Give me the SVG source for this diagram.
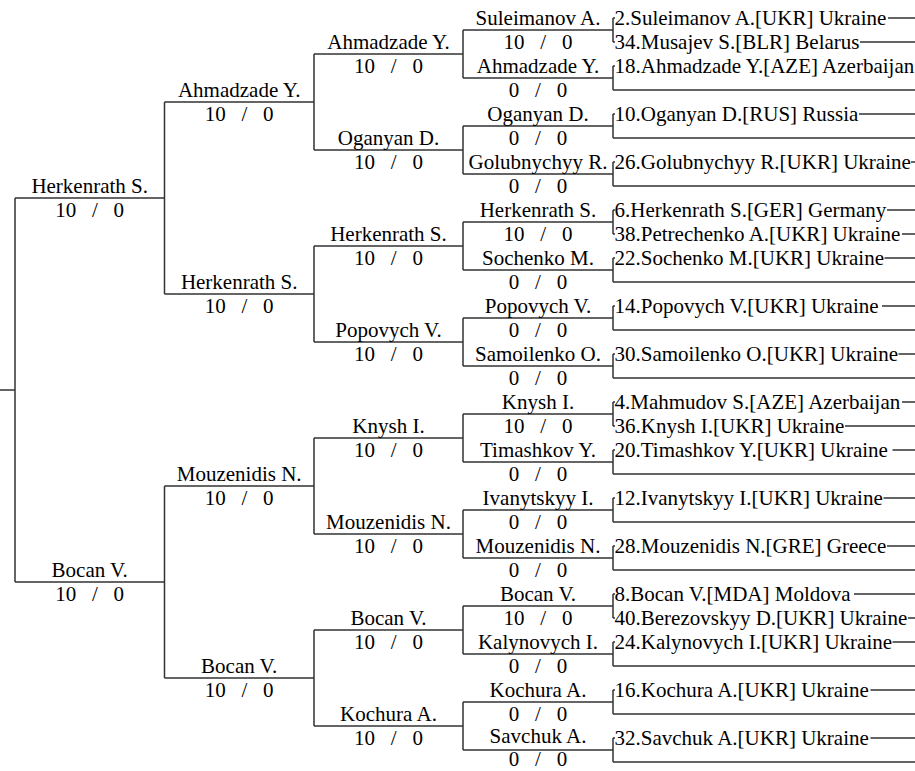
<svg xmlns="http://www.w3.org/2000/svg" width="915" height="771" viewBox="0 0 915 771">
<style>
.t{font-family:"Liberation Serif","Times New Roman",serif;font-size:21px;fill:#000}
.c{text-anchor:middle}
.ln{stroke:#333;stroke-width:1.5;fill:none}
</style>
<rect x="0" y="0" width="915" height="771" fill="#fff"/>
<g id="connectors" class="ln">
<path d="M0 390H15M15 198V582M15 198H164.5M15 582H164.5"/>
<path d="M164.5 102V294M164.5 486V678M164.5 102H314M164.5 294H314M164.5 486H314M164.5 678H314"/>
<path d="M314 54V150M314 246V342M314 438V534M314 630V726M314 54H463M314 150H463M314 246H463M314 342H463M314 438H463M314 534H463M314 630H463M314 726H463"/>
<path d="M463 30V78M463 126V174M463 222V270M463 318V366M463 414V462M463 510V558M463 606V654M463 702V750M463 30H613M463 78H613M463 126H613M463 174H613M463 222H613M463 270H613M463 318H613M463 366H613M463 414H613M463 462H613M463 510H613M463 558H613M463 606H613M463 654H613M463 702H613M463 750H613"/>
<path d="M613 18V42M613 66V90M613 114V138M613 162V186M613 210V234M613 258V282M613 306V330M613 354V378M613 402V426M613 450V474M613 498V522M613 546V570M613 594V618M613 642V666M613 690V714M613 738V762"/>
<path d="M613 18H615M888 18H915M613 42H615M860 42H915
M613 66H615M613 90H915
M613 114H615M859 114H915M613 138H915
M613 162H615M911 162H915M613 186H915
M613 210H615M887 210H915M613 234H615M902 234H915
M613 258H615M884.5 258H915M613 282H915
M613 306H615M882 306H915M613 330H915
M613 354H615M898.5 354H915M613 378H915
M613 402H615M902 402H915M613 426H615M845 426H915
M613 450H615M892.5 450H915M613 474H915
M613 498H615M883.5 498H915M613 522H915
M613 546H615M887 546H915M613 570H915
M613 594H615M854 594H915M613 618H615M908 618H915
M613 642H615M892.5 642H915M613 666H915
M613 690H615M870.5 690H915M613 714H915
M613 738H615M870.5 738H915M613 762H915"/>
</g>
<g id="final-herkenrath" class="t c"><text x="89.7" y="193">Herkenrath S.</text><text x="89.7" y="217">10&#160;&#160;&#160;/&#160;&#160;&#160;0</text></g>
<g id="final-bocan" class="t c"><text x="89.7" y="577">Bocan V.</text><text x="89.7" y="601">10&#160;&#160;&#160;/&#160;&#160;&#160;0</text></g>
<g id="sf-ahmadzade" class="t c"><text x="239.2" y="97">Ahmadzade Y.</text><text x="239.2" y="121">10&#160;&#160;&#160;/&#160;&#160;&#160;0</text></g>
<g id="sf-herkenrath" class="t c"><text x="239.2" y="289">Herkenrath S.</text><text x="239.2" y="313">10&#160;&#160;&#160;/&#160;&#160;&#160;0</text></g>
<g id="sf-mouzenidis" class="t c"><text x="239.2" y="481">Mouzenidis N.</text><text x="239.2" y="505">10&#160;&#160;&#160;/&#160;&#160;&#160;0</text></g>
<g id="sf-bocan" class="t c"><text x="239.2" y="673">Bocan V.</text><text x="239.2" y="697">10&#160;&#160;&#160;/&#160;&#160;&#160;0</text></g>
<g id="qf-ahmadzade" class="t c"><text x="388.5" y="49">Ahmadzade Y.</text><text x="388.5" y="73">10&#160;&#160;&#160;/&#160;&#160;&#160;0</text></g>
<g id="qf-oganyan" class="t c"><text x="388.5" y="145">Oganyan D.</text><text x="388.5" y="169">10&#160;&#160;&#160;/&#160;&#160;&#160;0</text></g>
<g id="qf-herkenrath" class="t c"><text x="388.5" y="241">Herkenrath S.</text><text x="388.5" y="265">10&#160;&#160;&#160;/&#160;&#160;&#160;0</text></g>
<g id="qf-popovych" class="t c"><text x="388.5" y="337">Popovych V.</text><text x="388.5" y="361">10&#160;&#160;&#160;/&#160;&#160;&#160;0</text></g>
<g id="qf-knysh" class="t c"><text x="388.5" y="433">Knysh I.</text><text x="388.5" y="457">10&#160;&#160;&#160;/&#160;&#160;&#160;0</text></g>
<g id="qf-mouzenidis" class="t c"><text x="388.5" y="529">Mouzenidis N.</text><text x="388.5" y="553">10&#160;&#160;&#160;/&#160;&#160;&#160;0</text></g>
<g id="qf-bocan" class="t c"><text x="388.5" y="625">Bocan V.</text><text x="388.5" y="649">10&#160;&#160;&#160;/&#160;&#160;&#160;0</text></g>
<g id="qf-kochura" class="t c"><text x="388.5" y="721">Kochura A.</text><text x="388.5" y="745">10&#160;&#160;&#160;/&#160;&#160;&#160;0</text></g>
<g id="r16-suleimanov" class="t c"><text x="538" y="25">Suleimanov A.</text><text x="538" y="49">10&#160;&#160;&#160;/&#160;&#160;&#160;0</text></g>
<g id="r16-ahmadzade" class="t c"><text x="538" y="73">Ahmadzade Y.</text><text x="538" y="97">0&#160;&#160;&#160;/&#160;&#160;&#160;0</text></g>
<g id="r16-oganyan" class="t c"><text x="538" y="121">Oganyan D.</text><text x="538" y="145">0&#160;&#160;&#160;/&#160;&#160;&#160;0</text></g>
<g id="r16-golubnychyy" class="t c"><text x="538" y="169">Golubnychyy R.</text><text x="538" y="193">0&#160;&#160;&#160;/&#160;&#160;&#160;0</text></g>
<g id="r16-herkenrath" class="t c"><text x="538" y="217">Herkenrath S.</text><text x="538" y="241">10&#160;&#160;&#160;/&#160;&#160;&#160;0</text></g>
<g id="r16-sochenko" class="t c"><text x="538" y="265">Sochenko M.</text><text x="538" y="289">0&#160;&#160;&#160;/&#160;&#160;&#160;0</text></g>
<g id="r16-popovych" class="t c"><text x="538" y="313">Popovych V.</text><text x="538" y="337">0&#160;&#160;&#160;/&#160;&#160;&#160;0</text></g>
<g id="r16-samoilenko" class="t c"><text x="538" y="361">Samoilenko O.</text><text x="538" y="385">0&#160;&#160;&#160;/&#160;&#160;&#160;0</text></g>
<g id="r16-knysh" class="t c"><text x="538" y="409">Knysh I.</text><text x="538" y="433">10&#160;&#160;&#160;/&#160;&#160;&#160;0</text></g>
<g id="r16-timashkov" class="t c"><text x="538" y="457">Timashkov Y.</text><text x="538" y="481">0&#160;&#160;&#160;/&#160;&#160;&#160;0</text></g>
<g id="r16-ivanytskyy" class="t c"><text x="538" y="505">Ivanytskyy I.</text><text x="538" y="529">0&#160;&#160;&#160;/&#160;&#160;&#160;0</text></g>
<g id="r16-mouzenidis" class="t c"><text x="538" y="553">Mouzenidis N.</text><text x="538" y="577">0&#160;&#160;&#160;/&#160;&#160;&#160;0</text></g>
<g id="r16-bocan" class="t c"><text x="538" y="601">Bocan V.</text><text x="538" y="625">10&#160;&#160;&#160;/&#160;&#160;&#160;0</text></g>
<g id="r16-kalynovych" class="t c"><text x="538" y="649">Kalynovych I.</text><text x="538" y="673">0&#160;&#160;&#160;/&#160;&#160;&#160;0</text></g>
<g id="r16-kochura" class="t c"><text x="538" y="697">Kochura A.</text><text x="538" y="721">0&#160;&#160;&#160;/&#160;&#160;&#160;0</text></g>
<g id="r16-savchuk" class="t c"><text x="538" y="743">Savchuk A.</text><text x="538" y="766.4">0&#160;&#160;&#160;/&#160;&#160;&#160;0</text></g>
<g id="entries" class="t">
<g id="e2"><text x="614.5" y="24.5">2.Suleimanov A.[UKR] Ukraine</text></g>
<g id="e34"><text x="614.5" y="48.5">34.Musajev S.[BLR] Belarus</text></g>
<g id="e18"><text x="614.5" y="72.5">18.Ahmadzade Y.[AZE] Azerbaijan</text></g>
<g id="e10"><text x="614.5" y="120.5">10.Oganyan D.[RUS] Russia</text></g>
<g id="e26"><text x="614.5" y="168.5">26.Golubnychyy R.[UKR] Ukraine</text></g>
<g id="e6"><text x="614.5" y="216.5">6.Herkenrath S.[GER] Germany</text></g>
<g id="e38"><text x="614.5" y="240.5">38.Petrechenko A.[UKR] Ukraine</text></g>
<g id="e22"><text x="614.5" y="264.5">22.Sochenko M.[UKR] Ukraine</text></g>
<g id="e14"><text x="614.5" y="312.5">14.Popovych V.[UKR] Ukraine</text></g>
<g id="e30"><text x="614.5" y="360.5">30.Samoilenko O.[UKR] Ukraine</text></g>
<g id="e4"><text x="614.5" y="408.5">4.Mahmudov S.[AZE] Azerbaijan</text></g>
<g id="e36"><text x="614.5" y="432.5">36.Knysh I.[UKR] Ukraine</text></g>
<g id="e20"><text x="614.5" y="456.5">20.Timashkov Y.[UKR] Ukraine</text></g>
<g id="e12"><text x="614.5" y="504.5">12.Ivanytskyy I.[UKR] Ukraine</text></g>
<g id="e28"><text x="614.5" y="552.5">28.Mouzenidis N.[GRE] Greece</text></g>
<g id="e8"><text x="614.5" y="600.5">8.Bocan V.[MDA] Moldova</text></g>
<g id="e40"><text x="614.5" y="624.5">40.Berezovskyy D.[UKR] Ukraine</text></g>
<g id="e24"><text x="614.5" y="648.5">24.Kalynovych I.[UKR] Ukraine</text></g>
<g id="e16"><text x="614.5" y="696.5">16.Kochura A.[UKR] Ukraine</text></g>
<g id="e32"><text x="614.5" y="744.5">32.Savchuk A.[UKR] Ukraine</text></g>
</g>
</svg>
